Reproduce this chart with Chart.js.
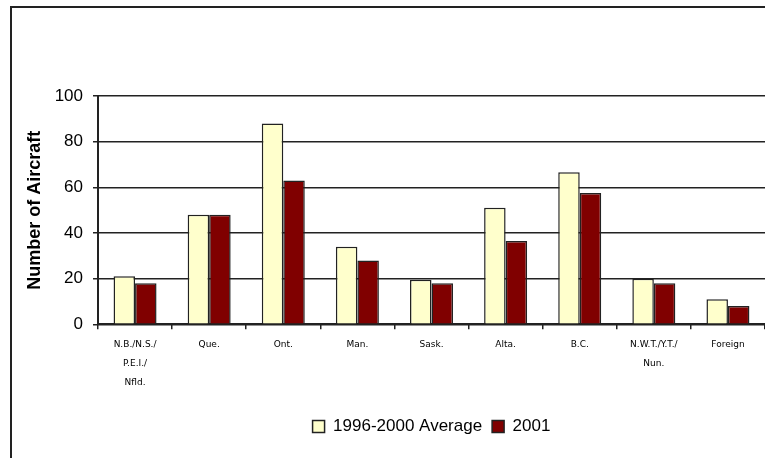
<!DOCTYPE html>
<html>
<head>
<meta charset="utf-8">
<script src="https://cdn.jsdelivr.net/npm/chart.js@4/dist/chart.umd.min.js"></script>
<style>
  html, body { margin: 0; padding: 0; background: #fff; }
  #frame { position: absolute; left: 10px; top: 6px; width: 800px; height: 500px;
           border-left: 2px solid #222; border-top: 2px solid #222; }
  #wrap { position: absolute; left: 0; top: 0; width: 765px; height: 458px; }
</style>
</head>
<body>
<div id="frame"></div>
<div id="wrap"><canvas id="c" width="765" height="458"></canvas></div>
<script>
const categories = [
  ['N.B./N.S./', 'P.E.I./', 'Nfld.'], 'Que.', 'Ont.', 'Man.', 'Sask.', 'Alta.', 'B.C.',
  ['N.W.T./Y.T./', 'Nun.'], 'Foreign'
];
const avg9600 = [21, 48, 88, 34, 19.5, 51, 66.6, 20, 11];
const y2001 = [18, 48, 63, 28, 18, 36.5, 57.5, 18, 8];
const seriesNames = ['1996-2000 Average', '2001'];
const yTicks = [0, 20, 40, 60, 80, 100];

const dark = '#222';
new Chart(document.getElementById('c'), {
  type: 'bar',
  data: {
    labels: categories,
    datasets: [
      { label: seriesNames[0], data: avg9600, backgroundColor: '#FFFFCC', borderColor: dark, borderWidth: 1.5 },
      { label: seriesNames[1], data: y2001, backgroundColor: '#800000', borderColor: dark, borderWidth: 1.5 }
    ]
  },
  options: {
    responsive: false,
    animation: false,
    events: [],
    layout: { padding: { top: 96, left: 0, right: 0, bottom: 13 } },
    datasets: { bar: { categoryPercentage: 0.58, barPercentage: 1.0 } },
    plugins: {
      tooltip: { enabled: false },
      legend: {
        position: 'bottom',
        fullSize: false,
        labels: {
          font: { family: 'Liberation Sans, Arial, sans-serif', size: 17 },
          color: '#000',
          boxWidth: 12,
          boxHeight: 12,
          padding: 10,
          useBorderRadius: false
        }
      }
    },
    scales: {
      x: {
        grid: { offset: true, drawOnChartArea: false, drawTicks: true, tickLength: 5, color: dark, lineWidth: 1.5 },
        border: { display: true, color: dark, width: 2 },
        ticks: {
          font: { family: 'DejaVu Sans, sans-serif', size: 9, lineHeight: 2.1 },
          color: '#000',
          padding: 6,
          maxRotation: 0,
          autoSkip: false
        },
        afterFit: (s) => { s.height += 10; }
      },
      y: {
        min: 0, max: 100,
        afterBuildTicks: (s) => { s.ticks = yTicks.map(v => ({ value: v })); },
        grid: { drawOnChartArea: true, drawTicks: true, tickLength: 5, color: dark, lineWidth: 1.5 },
        border: { display: true, color: dark, width: 2 },
        ticks: {
          font: { family: 'Liberation Sans, Arial, sans-serif', size: 17 },
          color: '#000',
          padding: 10
        },
        title: {
          display: true,
          text: 'Number of Aircraft',
          font: { family: 'Liberation Sans, Arial, sans-serif', size: 18, weight: 'bold' },
          color: '#000',
          padding: { top: 24, bottom: 0 }
        },
        afterFit: (s) => { s.width = 98; }
      }
    }
  }
});
</script>
</body>
</html>
